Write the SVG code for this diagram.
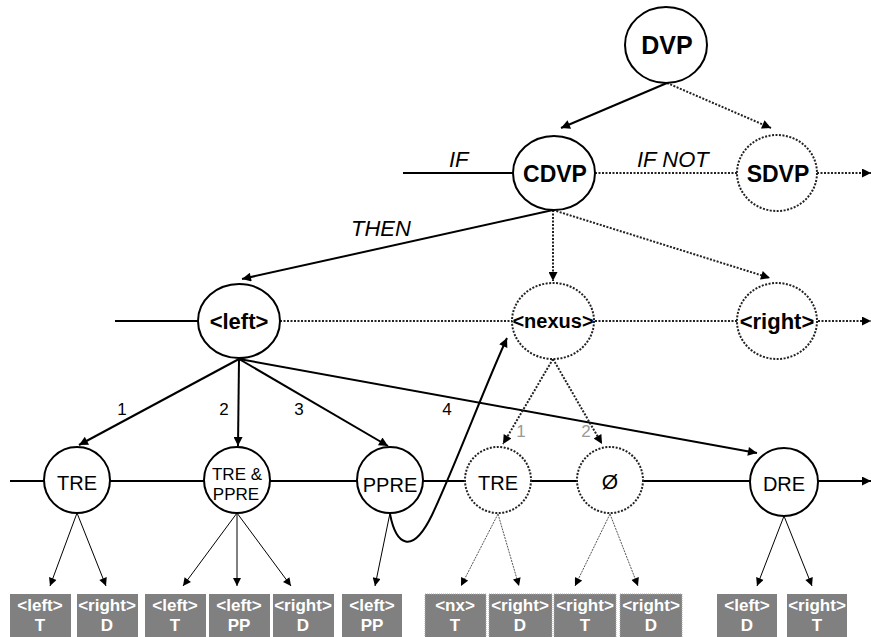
<svg xmlns="http://www.w3.org/2000/svg" width="871" height="637" viewBox="0 0 871 637">
<defs>
<marker id="ah" viewBox="0 0 10 10" refX="10" refY="5" markerWidth="11" markerHeight="9" orient="auto" markerUnits="userSpaceOnUse"><path d="M0,0 L10,5 L0,10 z" fill="#000"/></marker>
<marker id="as" viewBox="0 0 10 10" refX="10" refY="5" markerWidth="10" markerHeight="8" orient="auto" markerUnits="userSpaceOnUse"><path d="M0,0 L10,5 L0,10 z" fill="#000"/></marker>
</defs>
<style>
.n{fill:#fff;stroke:#000;stroke-width:2}
.nd{fill:#fff;stroke:#222;stroke-width:2;stroke-dasharray:2 1.5}
.s{fill:none;stroke:#000;stroke-width:2}
.d{fill:none;stroke:#222;stroke-width:2;stroke-dasharray:2 1.5}
.t{fill:none;stroke:#000;stroke-width:1}
.td{fill:none;stroke:#555;stroke-width:1;stroke-dasharray:2 1}
.b{font-family:"Liberation Sans",Arial,sans-serif;font-weight:bold;text-anchor:middle;fill:#000}
.r{font-family:"Liberation Sans",Arial,sans-serif;text-anchor:middle;fill:#000}
.i{font-family:"Liberation Sans",Arial,sans-serif;font-style:italic;font-size:22px;fill:#000}
.num{font-family:"Liberation Sans",Arial,sans-serif;font-size:17px;fill:#000;text-anchor:middle}
.ng{font-family:"Liberation Sans",Arial,sans-serif;font-size:17px;fill:#999;text-anchor:middle}
.box{fill:#808080}
.boxd{fill:#808080;stroke:#aaa;stroke-width:1;stroke-dasharray:1 1}
.bt{font-family:"Liberation Sans",Arial,sans-serif;font-weight:bold;font-size:17px;fill:#fff;text-anchor:middle}
</style>
<g id="connectors">
<line class="s" x1="667" y1="83" x2="561" y2="128" marker-end="url(#ah)"/>
<line class="d" x1="667" y1="83" x2="771" y2="128" marker-end="url(#ah)"/>
<line class="s" x1="403" y1="173" x2="513" y2="173"/>
<line class="d" x1="595" y1="173" x2="737" y2="173"/>
<line class="d" x1="817" y1="173" x2="871" y2="173" marker-end="url(#ah)"/>
<line class="s" x1="553" y1="210" x2="242" y2="279" marker-end="url(#ah)"/>
<line class="d" x1="553" y1="210" x2="553" y2="281" marker-end="url(#ah)"/>
<line class="d" x1="553" y1="210" x2="770" y2="278" marker-end="url(#ah)"/>
<line class="s" x1="115" y1="321" x2="198" y2="321"/>
<line class="d" x1="280" y1="321" x2="512" y2="321"/>
<line class="d" x1="595" y1="321" x2="737" y2="321"/>
<line class="d" x1="818" y1="321" x2="871" y2="321" marker-end="url(#ah)"/>
<line class="s" x1="239" y1="359" x2="79" y2="445" marker-end="url(#ah)"/>
<line class="s" x1="239" y1="359" x2="238" y2="446" marker-end="url(#ah)"/>
<line class="s" x1="239" y1="359" x2="388" y2="446" marker-end="url(#ah)"/>
<line class="s" x1="239" y1="359" x2="757" y2="453" marker-end="url(#ah)"/>
<line class="d" x1="553" y1="359" x2="503" y2="444" marker-end="url(#ah)"/>
<line class="d" x1="553" y1="359" x2="602" y2="444" marker-end="url(#ah)"/>
<path class="s" d="M390,514 C396,545 412,556 432,515 C455,466 485,386 507,338" marker-end="url(#ah)"/>
<line class="s" x1="10" y1="481" x2="44" y2="481"/>
<line class="s" x1="110" y1="481" x2="204" y2="481"/>
<line class="s" x1="270" y1="481" x2="357" y2="481"/>
<line class="s" x1="423" y1="481" x2="465" y2="481"/>
<line class="s" x1="531" y1="481" x2="577" y2="481"/>
<line class="s" x1="643" y1="481" x2="750" y2="481"/>
<line class="s" x1="818" y1="481" x2="871" y2="481" marker-end="url(#ah)"/>
<line class="t" x1="77" y1="513" x2="50" y2="586" marker-end="url(#as)"/>
<line class="t" x1="77" y1="513" x2="106" y2="586" marker-end="url(#as)"/>
<line class="t" x1="237" y1="513" x2="183" y2="586" marker-end="url(#as)"/>
<line class="t" x1="237" y1="513" x2="237" y2="586" marker-end="url(#as)"/>
<line class="t" x1="237" y1="513" x2="291" y2="586" marker-end="url(#as)"/>
<line class="t" x1="390" y1="513" x2="375" y2="586" marker-end="url(#as)"/>
<line class="td" x1="498" y1="514" x2="461" y2="586" marker-end="url(#as)"/>
<line class="td" x1="498" y1="514" x2="519" y2="586" marker-end="url(#as)"/>
<line class="td" x1="610" y1="514" x2="575" y2="586" marker-end="url(#as)"/>
<line class="td" x1="610" y1="514" x2="638" y2="586" marker-end="url(#as)"/>
<line class="t" x1="784" y1="516" x2="757" y2="586" marker-end="url(#as)"/>
<line class="t" x1="784" y1="516" x2="812" y2="586" marker-end="url(#as)"/>
<text class="i" x="449" y="167">IF</text>
<text class="i" x="637" y="167">IF NOT</text>
<text class="i" x="351" y="236">THEN</text>
<text class="num" x="122" y="415">1</text>
<text class="num" x="224" y="415">2</text>
<text class="num" x="299" y="415">3</text>
<text class="num" x="447" y="415">4</text>
<text class="ng" x="521" y="437">1</text>
<text class="ng" x="586" y="437">2</text>
</g>
<g id="DVP"><ellipse class="n" cx="666" cy="45" rx="41" ry="38"/><text class="b" x="667" y="54" font-size="25">DVP</text></g>
<g id="CDVP"><ellipse class="n" cx="554" cy="173" rx="41" ry="37"/><text class="b" x="555" y="182" font-size="23">CDVP</text></g>
<g id="SDVP"><ellipse class="nd" cx="777" cy="173" rx="40" ry="38"/><text class="b" x="778" y="182" font-size="23">SDVP</text></g>
<g id="left"><ellipse class="n" cx="239" cy="321" rx="41" ry="37"/><text class="b" x="239" y="329" font-size="22">&lt;left&gt;</text></g>
<g id="nexus"><ellipse class="nd" cx="553" cy="321" rx="41" ry="38"/><text class="b" x="553" y="328" font-size="20">&lt;nexus&gt;</text></g>
<g id="right"><ellipse class="nd" cx="777" cy="321" rx="40" ry="38"/><text class="b" x="777" y="329" font-size="22">&lt;right&gt;</text></g>
<g id="TRE1"><ellipse class="n" cx="77" cy="480" rx="33" ry="33"/><text class="r" x="77" y="490" font-size="20">TRE</text></g>
<g id="TREPPRE"><ellipse class="n" cx="237" cy="480" rx="33" ry="33"/><text class="r" x="237" y="480" font-size="17">TRE &amp;</text><text class="r" x="236" y="500" font-size="17">PPRE</text></g>
<g id="PPRE"><ellipse class="n" cx="390" cy="480" rx="33" ry="33"/><text class="r" x="390" y="492" font-size="20">PPRE</text></g>
<g id="TRE2"><ellipse class="nd" cx="498" cy="480" rx="33" ry="33"/><text class="r" x="498" y="490" font-size="20">TRE</text></g>
<g id="empty"><ellipse class="nd" cx="610" cy="480" rx="33" ry="33"/><text class="r" x="610" y="489" font-size="21">Ø</text></g>
<g id="DRE"><ellipse class="n" cx="784" cy="482" rx="34" ry="34"/><text class="r" x="784" y="491" font-size="20">DRE</text></g>
<g id="box1"><rect class="box" x="10" y="594" width="61" height="45"/><text class="bt" x="40" y="611">&lt;left&gt;</text><text class="bt" x="40" y="631">T</text></g>
<g id="box2"><rect class="box" x="77" y="594" width="61" height="45"/><text class="bt" x="107" y="611">&lt;right&gt;</text><text class="bt" x="107" y="631">D</text></g>
<g id="box3"><rect class="box" x="145" y="594" width="61" height="45"/><text class="bt" x="175" y="611">&lt;left&gt;</text><text class="bt" x="175" y="631">T</text></g>
<g id="box4"><rect class="box" x="209" y="594" width="61" height="45"/><text class="bt" x="239" y="611">&lt;left&gt;</text><text class="bt" x="239" y="631">PP</text></g>
<g id="box5"><rect class="box" x="273" y="594" width="61" height="45"/><text class="bt" x="303" y="611">&lt;right&gt;</text><text class="bt" x="303" y="631">D</text></g>
<g id="box6"><rect class="box" x="342" y="594" width="60" height="45"/><text class="bt" x="372" y="611">&lt;left&gt;</text><text class="bt" x="372" y="631">PP</text></g>
<g id="box7"><rect class="boxd" x="425" y="594" width="61" height="45"/><text class="bt" x="455" y="611">&lt;nx&gt;</text><text class="bt" x="455" y="631">T</text></g>
<g id="box8"><rect class="boxd" x="489" y="594" width="63" height="45"/><text class="bt" x="520" y="611">&lt;right&gt;</text><text class="bt" x="520" y="631">D</text></g>
<g id="box9"><rect class="boxd" x="554" y="594" width="62" height="45"/><text class="bt" x="585" y="611">&lt;right&gt;</text><text class="bt" x="585" y="631">T</text></g>
<g id="box10"><rect class="boxd" x="620" y="594" width="62" height="45"/><text class="bt" x="651" y="611">&lt;right&gt;</text><text class="bt" x="651" y="631">D</text></g>
<g id="box11"><rect class="box" x="717" y="594" width="60" height="45"/><text class="bt" x="747" y="611">&lt;left&gt;</text><text class="bt" x="747" y="631">D</text></g>
<g id="box12"><rect class="box" x="787" y="594" width="60" height="45"/><text class="bt" x="817" y="611">&lt;right&gt;</text><text class="bt" x="817" y="631">T</text></g>
</svg>
